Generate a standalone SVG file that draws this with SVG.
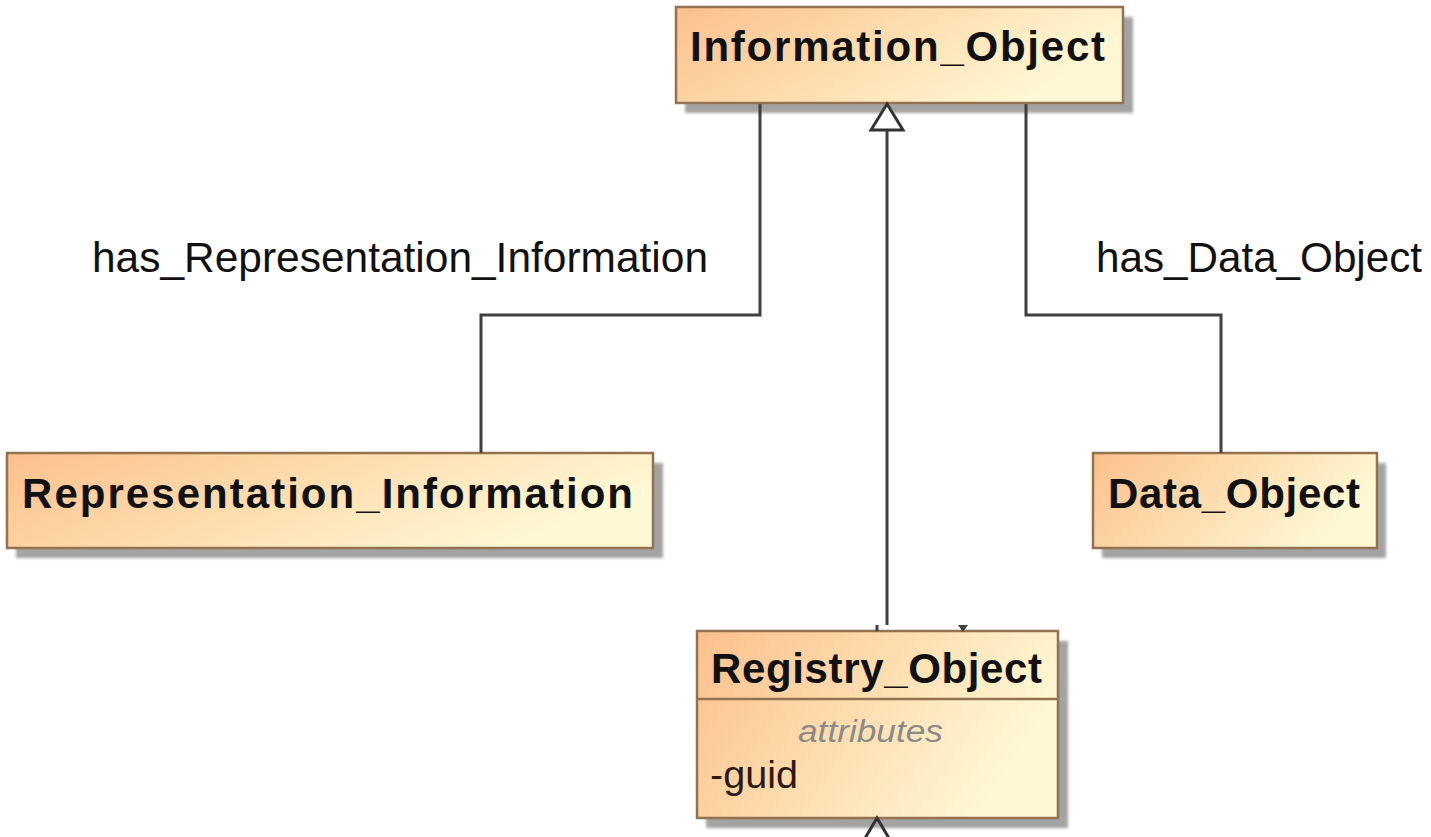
<svg xmlns="http://www.w3.org/2000/svg" width="1431" height="837" viewBox="0 0 1431 837">
  <defs>
    <linearGradient id="classFill" x1="0" y1="0" x2="1" y2="0.35">
      <stop offset="0" stop-color="#fbc08c"/>
      <stop offset="0.5" stop-color="#fddcae"/>
      <stop offset="1" stop-color="#fff8d4"/>
    </linearGradient>
    <filter id="soft" x="-5%" y="-20%" width="110%" height="140%">
      <feGaussianBlur stdDeviation="1.5"/>
    </filter>
  </defs>
  <style>
    .shadow { fill: #a3a3a3; filter: url(#soft); }
    .box { fill: url(#classFill); stroke: #93734f; stroke-width: 2.5; }
    .name { font-family: "Liberation Sans", Arial, sans-serif; font-weight: bold; font-size: 42px; fill: #111111; }
    .label { font-family: "Liberation Sans", Arial, sans-serif; font-size: 42px; fill: #111111; }
    .section { font-family: "Liberation Sans", Arial, sans-serif; font-style: italic; font-size: 31px; fill: #8a8a8a; }
    .attr { font-family: "Liberation Sans", Arial, sans-serif; font-size: 38px; fill: #2a1a12; }
    .wire { fill: none; stroke: #404040; stroke-width: 3; }
  </style>

  <rect width="1431" height="837" fill="#ffffff"/>

  <!-- Information_Object -->
  <g id="information-object">
    <rect class="shadow" x="685" y="17" width="448" height="96"/>
    <rect class="box" x="676" y="7" width="447" height="96"/>
    <text class="name" x="690" y="61" textLength="415" lengthAdjust="spacing">Information_Object</text>
  </g>

  <!-- Representation_Information -->
  <g id="representation-information">
    <rect class="shadow" x="16" y="463" width="647" height="95"/>
    <rect class="box" x="7" y="453" width="646" height="95"/>
    <text class="name" x="22" y="508" textLength="611" lengthAdjust="spacing">Representation_Information</text>
  </g>

  <!-- Data_Object -->
  <g id="data-object">
    <rect class="shadow" x="1102" y="463" width="284" height="95"/>
    <rect class="box" x="1093" y="453" width="284" height="95"/>
    <text class="name" x="1108" y="508" textLength="252" lengthAdjust="spacing">Data_Object</text>
  </g>

  <!-- Registry_Object -->
  <g id="registry-object">
    <rect class="shadow" x="706" y="641" width="362" height="187"/>
    <rect class="box" x="697" y="631" width="361" height="187"/>
    <line x1="697" y1="699" x2="1058" y2="699" stroke="#93734f" stroke-width="2.5"/>
    <text class="name" x="711" y="683" textLength="331" lengthAdjust="spacing">Registry_Object</text>
    <text class="section" x="798" y="742" textLength="145" lengthAdjust="spacingAndGlyphs">attributes</text>
    <text class="attr" x="710" y="788" textLength="88" lengthAdjust="spacingAndGlyphs">-guid</text>
  </g>

  <!-- connectors -->
  <g id="connectors">
    <polyline class="wire" points="760,104 760,315 481,315 481,453"/>
    <polyline class="wire" points="1026,104 1026,315 1221,315 1221,453"/>
    <line class="wire" x1="887" y1="625" x2="887" y2="130"/>
    <path d="M887,104 L903,130 L871,130 Z" fill="#ffffff" stroke="#333333" stroke-width="3"/>
    <!-- stubs of further links entering Registry_Object -->
    <line x1="877" y1="625" x2="877" y2="631" stroke="#404040" stroke-width="3"/>
    <path d="M958,625 L968,625 L963,632 Z" fill="#404040"/>
    <path d="M861,845 L877,818 L893,845" fill="none" stroke="#333333" stroke-width="3"/>
    <text class="label" x="92" y="272" textLength="616" lengthAdjust="spacingAndGlyphs">has_Representation_Information</text>
    <text class="label" x="1096" y="272" textLength="326" lengthAdjust="spacingAndGlyphs">has_Data_Object</text>
  </g>
</svg>
